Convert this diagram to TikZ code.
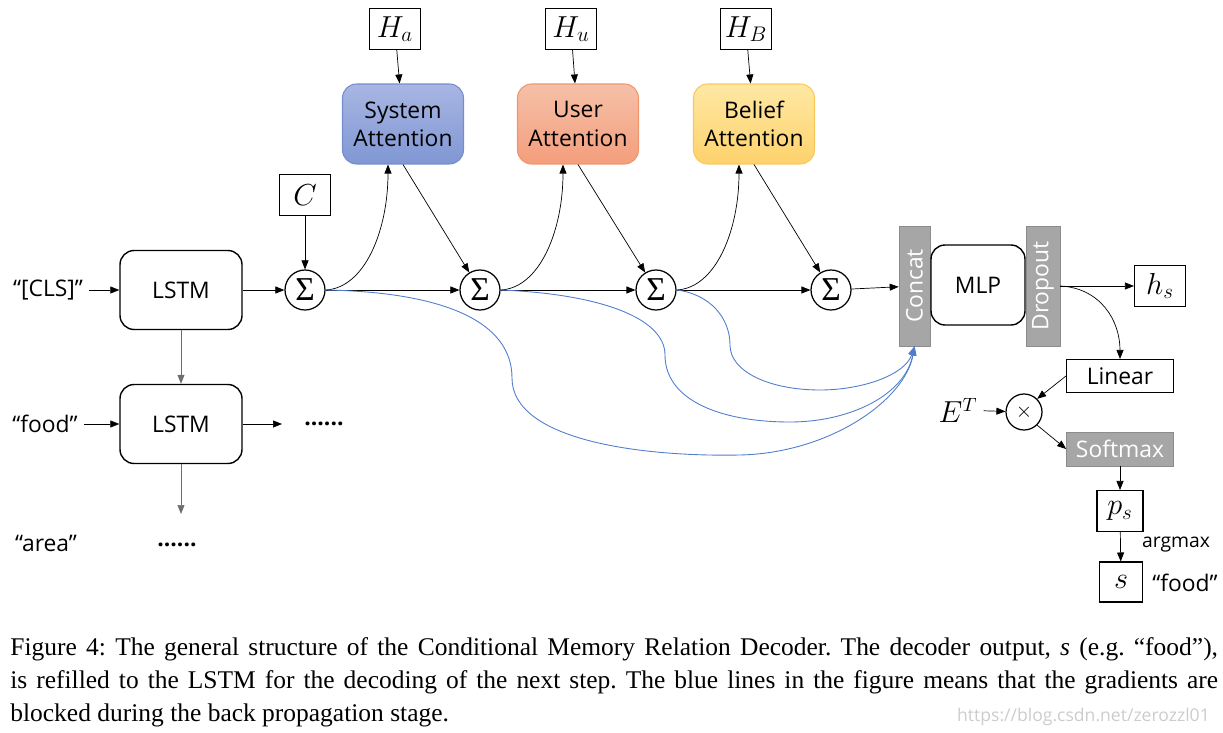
\documentclass[tikz,border=0pt]{standalone}
\usepackage{fontspec}
\usepackage{graphicx}
\setmainfont{Liberation Serif}
\newfontfamily\diagfont{Open Sans}
\newfontfamily\sigmafont{Liberation Serif}
\usetikzlibrary{arrows.meta}

\definecolor{sysTop}{RGB}{168,182,226}
\definecolor{sysBtm}{RGB}{128,151,212}
\definecolor{sysEdge}{RGB}{114,142,204}
\definecolor{userTop}{RGB}{245,192,168}
\definecolor{userBtm}{RGB}{244,158,124}
\definecolor{userEdge}{RGB}{240,150,110}
\definecolor{beliefTop}{RGB}{254,232,164}
\definecolor{beliefBtm}{RGB}{254,210,108}
\definecolor{beliefEdge}{RGB}{250,200,90}
\definecolor{barGray}{RGB}{166,166,166}
\definecolor{barEdge}{RGB}{140,140,140}
\definecolor{blueLine}{RGB}{80,125,205}
\definecolor{linkGray}{RGB}{110,110,110}

\tikzset{
	>={Triangle[length=1.8mm,width=1.4mm]},
	plainBox/.style={draw=black, line width=0.6pt, inner sep=0pt},
	mathBox/.style={plainBox, minimum width=1.02cm, minimum height=0.82cm, font=\fontsize{17}{20}\selectfont},
	lstmBox/.style={draw=black, rounded corners=8pt, line width=0.8pt, minimum width=2.44cm, minimum height=1.58cm},
	attBox/.style={rounded corners=8pt, line width=0.6pt, minimum width=2.42cm, minimum height=1.6cm, align=center},
	sumNode/.style={circle, draw=black, line width=0.7pt, minimum size=0.8cm, inner sep=0pt, font=\sigmafont\fontsize{19}{20}\selectfont},
	grayBar/.style={fill=barGray, draw=barEdge, text=white, inner sep=0pt},
	link/.style={->, line width=0.4pt},
	blueLink/.style={->, line width=0.5pt, draw=blueLine, >={Triangle[length=1.8mm,width=1.4mm,fill=blueLine]}}
}

\begin{document}
\begin{tikzpicture}[x=0.02cm, y=-0.02cm, every node/.style={font=\diagfont\fontsize{13}{16}\selectfont}]
	\useasboundingbox (0,0) rectangle (1223,733);
	% memories and attentions
	\node[mathBox](hA) at (395,29){$H_a$};
	\node[mathBox](hU) at (571,29){$H_u$};
	\node[mathBox](hB) at (746,29){$H_B$};
	\node[attBox, top color=sysTop, bottom color=sysBtm, draw=sysEdge](sysAtt) at (403,124){System\\Attention};
	\node[attBox, top color=userTop, bottom color=userBtm, draw=userEdge](userAtt) at (578,124){User\\Attention};
	\node[attBox, top color=beliefTop, bottom color=beliefBtm, draw=beliefEdge](beliefAtt) at (754,124){Belief\\Attention};
	\node[mathBox](ctx) at (305,195){$C$};
	% sums
	\node[sumNode](sumOne) at (305,290){Σ};
	\node[sumNode](sumTwo) at (480,290){Σ};
	\node[sumNode](sumThree) at (656,290){Σ};
	\node[sumNode](sumFour) at (831,290){Σ};
	% lstm steps
	\node[lstmBox](lstmTop) at (181,290){LSTM};
	\node[lstmBox](lstmBtm) at (181,424){LSTM};
	\node(clsWord) at (48,290){“[CLS]”};
	\node(foodWord) at (45,424){“food”};
	\node(areaWord) at (46,543){“area”};
	\node(dotsRight) at (324,424){\textbf{......}};
	\node(dotsDown) at (177,545){\textbf{......}};
	\coordinate(lstmRightEnd) at (282,424);
	\coordinate(lstmDownEnd) at (181,514);
	% output part
	\node[grayBar, minimum width=0.62cm, minimum height=2.4cm](concat) at (914.5,286){\rotatebox{90}{Concat}};
	\node[lstmBox, minimum width=1.88cm, minimum height=1.6cm](mlp) at (978,285){MLP};
	\node[grayBar, minimum width=0.68cm, minimum height=2.4cm](dropout) at (1043,286){\rotatebox{90}{Dropout}};
	\node[mathBox](hS) at (1160,286){$h_s$};
	\node[plainBox, minimum width=2.14cm, minimum height=0.66cm](linear) at (1120,376){Linear};
	\node[circle, draw=black, line width=0.7pt, minimum size=0.72cm, inner sep=0pt](times) at (1024,412){$\times$};
	\node[font=\fontsize{16}{18}\selectfont](eT) at (958,410){$E^T$};
	\node[grayBar, minimum width=2.14cm, minimum height=0.68cm](softmax) at (1120,449){Softmax};
	\node[mathBox, minimum width=0.92cm](pS) at (1120,511){$p_s$};
	\node[mathBox, minimum width=0.86cm, minimum height=0.8cm](sOut) at (1121,582){$s$};
	\node[font=\diagfont\fontsize{11}{13}\selectfont](argmax) at (1176,545){argmax};
	\node(foodOut) at (1185,583){“food”};

	\draw[link] (clsWord) -- (lstmTop);
	\draw[link] (foodWord) -- (lstmBtm);
	\draw[link, draw=linkGray] (lstmTop) -- (lstmBtm);
	\draw[link, draw=linkGray] (lstmBtm) -- (lstmDownEnd);
	\draw[link] (lstmBtm) -- (lstmRightEnd);
	\draw[link] (lstmTop) -- (sumOne);
	\draw[link] (ctx) -- (sumOne);
	\draw[link] (sumOne) -- (sumTwo);
	\draw[link] (sumTwo) -- (sumThree);
	\draw[link] (sumThree) -- (sumFour);
	\draw[link] (sumFour) -- (concat);
	\draw[link] (hA) -- (sysAtt);
	\draw[link] (hU) -- (userAtt);
	\draw[link] (hB) -- (beliefAtt);
	\draw[link] (sumOne.east) .. controls (365,288) and (388,230) .. ([xshift=-0.3cm]sysAtt.south);
	\draw[link] (sumTwo.east) .. controls (540,288) and (563,230) .. ([xshift=-0.3cm]userAtt.south);
	\draw[link] (sumThree.east) .. controls (716,288) and (739,230) .. ([xshift=-0.3cm]beliefAtt.south);
	\draw[link] (sysAtt.south) -- (sumTwo);
	\draw[link] (userAtt.south) -- (sumThree);
	\draw[link] (beliefAtt.south) -- (sumFour);
	% blocked gradients
	\draw[blueLink] (sumOne.east) .. controls (440,292) and (512,320) .. (512,378) .. controls (512,440) and (640,457) .. (740,455) .. controls (830,453) and (905,400) .. (concat.south);
	\draw[blueLink] (sumTwo.east) .. controls (600,294) and (665,318) .. (665,355) .. controls (665,400) and (720,422) .. (790,422) .. controls (850,422) and (905,395) .. (concat.south);
	\draw[blueLink] (sumThree.east) .. controls (710,294) and (730,318) .. (730,345) .. controls (730,372) and (770,390) .. (820,390) .. controls (862,390) and (905,375) .. (concat.south);
	% decoding
	\draw[link] (dropout.east) -- (hS.west);
	\draw[link] (dropout.east) .. controls (1100,288) and (1120,320) .. (linear.north);
	\draw[link] (linear.west) -- (times.north east);
	\draw[link] (eT) -- (times);
	\draw[link] (times.south east) -- (softmax.west);
	\draw[link] (softmax) -- (pS);
	\draw[link] (pS) -- (sOut);

	\node[anchor=north west, inner sep=0pt, text width=24.16cm, align=justify, font=\fontsize{14.5}{18.7}\selectfont](caption) at (10,637){\frenchspacing Figure 4: The general structure of the Conditional Memory Relation Decoder. The decoder output, \textit{s} (e.g. “food”),\linebreak is refilled to the LSTM for the decoding of the next step. The blue lines in the figure means that the gradients are\linebreak blocked during the back propagation stage.};
	\node[anchor=east, text=gray!40, font=\diagfont\fontsize{10}{12}\selectfont](mark) at (1216,717){https://blog.csdn.net/zerozzl01};
\end{tikzpicture}
\end{document}
